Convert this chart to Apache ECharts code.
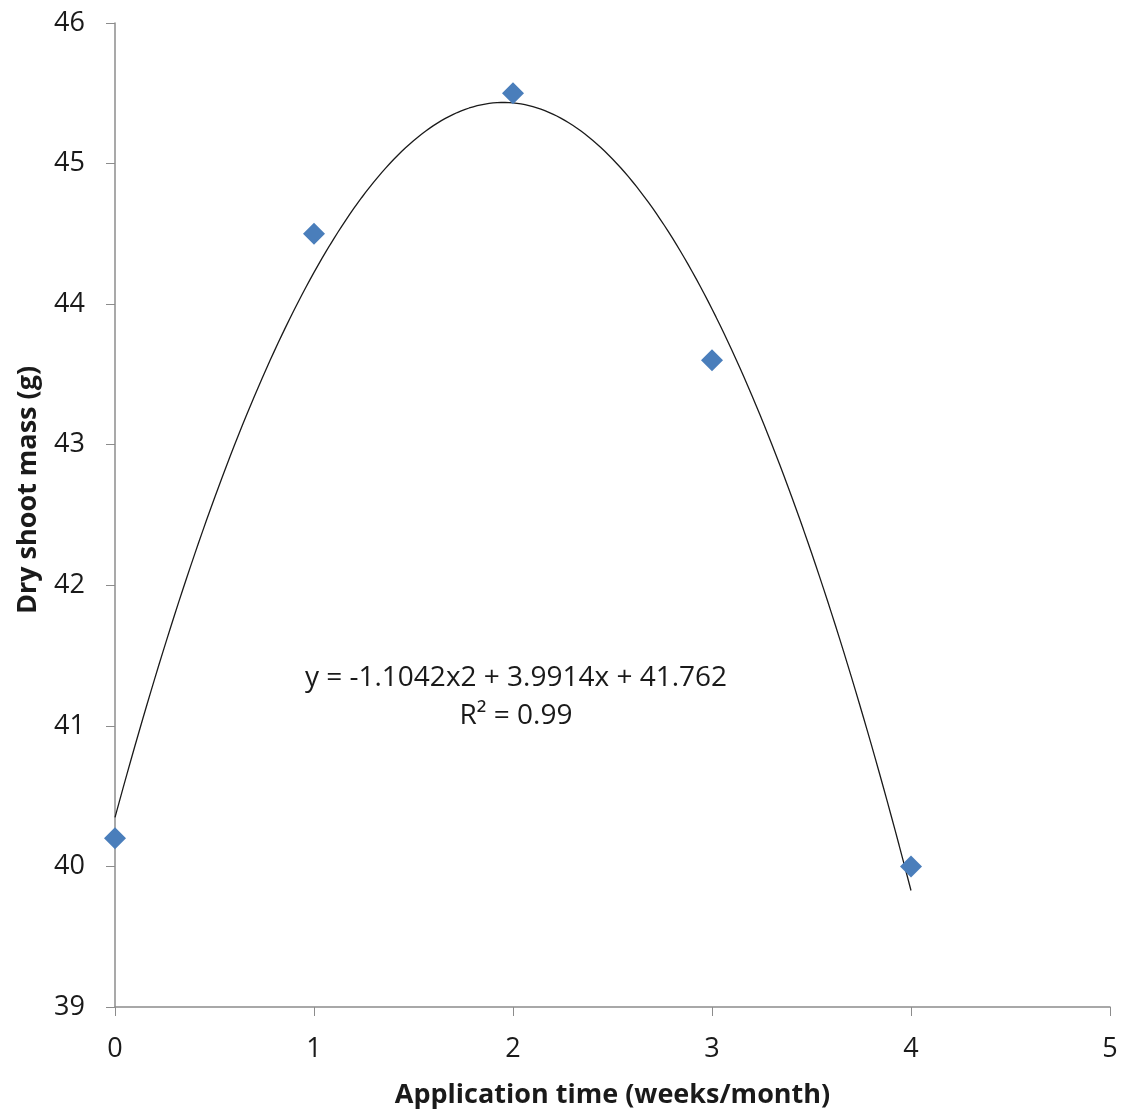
<!DOCTYPE html>
<html>
<head>
<meta charset="utf-8">
<script src="https://cdn.jsdelivr.net/npm/echarts@6/dist/echarts.min.js"></script>
<style>
html,body{margin:0;padding:0;background:#fff;}
#chart{width:1127px;height:1118px;}
</style>
</head>
<body>
<div id="chart"></div>
<script>
// Data
const xValues = [0, 1, 2, 3, 4];
const yValues = [40.2, 44.5, 45.5, 43.6, 40.0];
const xTicks = [0, 1, 2, 3, 4, 5];
const yTicks = [39, 40, 41, 42, 43, 44, 45, 46];
const equationText = 'y = -1.1042x2 + 3.9914x + 41.762';
const r2Text = 'R² = 0.99';
const xTitle = 'Application time (weeks/month)';
const yTitle = 'Dry shoot mass (g)';

// Least-squares quadratic trendline computed from the data
function quadFit(xs, ys) {
  let S = [0,0,0,0,0], T = [0,0,0];
  for (let i = 0; i < xs.length; i++) {
    let p = 1;
    for (let k = 0; k < 5; k++) { S[k] += p; if (k < 3) T[k] += p * ys[i]; p *= xs[i]; }
  }
  const A = [[S[0],S[1],S[2],T[0]],[S[1],S[2],S[3],T[1]],[S[2],S[3],S[4],T[2]]];
  for (let i = 0; i < 3; i++) {
    for (let j = i + 1; j < 3; j++) {
      const f = A[j][i] / A[i][i];
      for (let k = i; k < 4; k++) A[j][k] -= f * A[i][k];
    }
  }
  const c = [0,0,0];
  for (let i = 2; i >= 0; i--) {
    let s = A[i][3];
    for (let k = i + 1; k < 3; k++) s -= A[i][k] * c[k];
    c[i] = s / A[i][i];
  }
  return c;
}
const coef = quadFit(xValues, yValues);
const trend = [];
const xMinFit = Math.min(...xValues), xMaxFit = Math.max(...xValues);
for (let i = 0; i <= 200; i++) {
  const x = xMinFit + (xMaxFit - xMinFit) * i / 200;
  trend.push([x, coef[0] + coef[1] * x + coef[2] * x * x]);
}

const FONT = 'Open Sans';
const chart = echarts.init(document.getElementById('chart'));
chart.setOption({
  animation: false,
  backgroundColor: '#ffffff',
  grid: { left: 115, right: 17, top: 23, bottom: 111, containLabel: false },
  xAxis: {
    type: 'value', min: xTicks[0], max: xTicks[xTicks.length - 1], interval: 1,
    name: xTitle, nameLocation: 'middle', nameGap: 75,
    nameTextStyle: { fontFamily: FONT, fontWeight: 'bold', fontSize: 27, color: '#1a1a1a' },
    axisLine: { lineStyle: { color: '#8c8c8c', width: 1.5 } },
    axisTick: { show: true, inside: false, length: 9, lineStyle: { color: '#8c8c8c' } },
    axisLabel: { fontFamily: FONT, fontSize: 27, color: '#1a1a1a', margin: 29 },
    splitLine: { show: false }
  },
  yAxis: {
    type: 'value', min: yTicks[0], max: yTicks[yTicks.length - 1], interval: 1,
    name: yTitle, nameLocation: 'middle', nameGap: 73, nameRotate: 90,
    nameTextStyle: { fontFamily: FONT, fontWeight: 'bold', fontSize: 27, color: '#1a1a1a',
      padding: [0, 0, 0, 50] },
    axisLine: { show: true, lineStyle: { color: '#8c8c8c', width: 1.5 } },
    axisTick: { show: true, inside: false, length: 9, lineStyle: { color: '#8c8c8c' } },
    axisLabel: { fontFamily: FONT, fontSize: 27, color: '#1a1a1a', margin: 30 },
    splitLine: { show: false }
  },
  series: [
    {
      type: 'line', data: trend, showSymbol: false, smooth: false,
      lineStyle: { color: '#1a1a1a', width: 1.3 }, z: 2, silent: true
    },
    {
      type: 'scatter', data: xValues.map((x, i) => [x, yValues[i]]),
      symbol: 'diamond', symbolSize: [22, 22],
      itemStyle: { color: '#4a7ebb', opacity: 1 }, z: 3
    }
  ],
  graphic: [
    {
      type: 'text', x: 516, y: 697,
      style: { text: equationText + '\n' + r2Text, fontFamily: FONT, fontSize: 28,
        fill: '#1a1a1a', align: 'center', verticalAlign: 'middle', lineHeight: 38 }
    }
  ]
});
</script>
</body>
</html>
